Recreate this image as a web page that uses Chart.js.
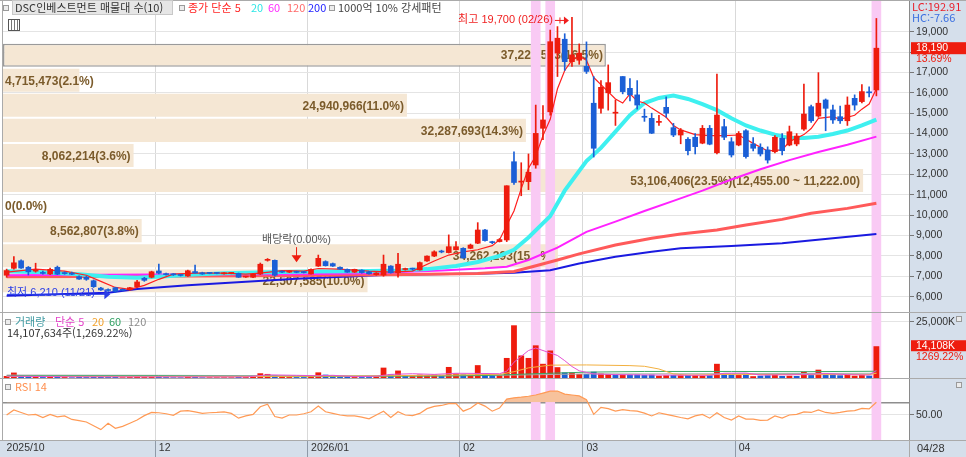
<!DOCTYPE html>
<html lang="ko">
<head>
<meta charset="utf-8">
<title>DSC인베스트먼트 일봉</title>
<script src="https://cdn.jsdelivr.net/npm/chart.js@4.4.1/dist/chart.umd.min.js"></script>
<style>
  body { margin: 0; background: #fff; }
  #wrap { position: relative; width: 966px; height: 457px; overflow: hidden; background: #fff;
          font-family: "Noto Sans CJK KR", "Liberation Sans", sans-serif; font-size: 11px; color: #333; }
  .axisbg { position: absolute; background: #d5dfeb; }
  canvas { position: absolute; left: 0; }
  .hl { position: absolute; background: #aaaaaa; }
  .t { position: absolute; white-space: nowrap; line-height: 13px; }
  .sq { position: absolute; width: 4px; height: 4px; border: 1px solid #9a9a9a; background: #ececec; }
</style>
</head>
<body>
<div id="wrap">
  <div class="axisbg" style="left:909px;top:0;width:57px;height:441px"></div>
  <div class="axisbg" style="left:0;top:441px;width:966px;height:16px"></div>

  <canvas id="pricePane" width="966" height="312" style="top:0"></canvas>
  <canvas id="volPane" width="966" height="65" style="top:313px"></canvas>
  <canvas id="rsiPane" width="966" height="78" style="top:379px"></canvas>

  <div class="hl" style="left:0;top:0;width:966px;height:1px"></div>
  <div class="hl" style="left:0;top:312px;width:966px;height:1px"></div>
  <div class="hl" style="left:0;top:378px;width:966px;height:1px"></div>
  <div class="hl" style="left:0;top:440px;width:966px;height:1px"></div>
  <div class="hl" style="left:2px;top:0;width:1px;height:441px"></div>
  <div class="hl" style="left:909px;top:440px;width:1px;height:17px"></div>

  <!-- price pane legend -->
  <div class="sq" style="left:3px;top:5px"></div>
  <div class="t" style="left:12px;top:0;width:157px;height:13px;background:#e6e6e6;border:1px solid #c8c8c8;padding-left:2px">DSC인베스트먼트 매물대 수(10)</div>
  <div class="sq" style="left:179px;top:5px"></div>
  <div class="t" style="left:188px;top:1px;color:#ff2525">종가 단순 5</div>
  <div class="t" style="left:251px;top:1px;color:#2ee6e6">20</div>
  <div class="t" style="left:268px;top:1px;color:#ff2cff">60</div>
  <div class="t" style="left:287px;top:1px;color:#ff6a6a">120</div>
  <div class="t" style="left:308px;top:1px;color:#2222ff">200</div>
  <div class="sq" style="left:329px;top:5px"></div>
  <div class="t" style="left:338px;top:1px;color:#444">1000억 10% 강세패턴</div>
  <div style="position:absolute;left:8px;top:19px;width:10px;height:10px;border:1px solid #555;
       background:repeating-linear-gradient(90deg,#fff 0 2px,#777 2px 3px),#fff"></div>
  <div class="t" style="left:912px;top:0;color:#e8202a">LC:192.91</div>
  <div class="t" style="left:912px;top:11px;color:#3a6fe0">HC:-7.66</div>

  <!-- volume pane legend -->
  <div class="sq" style="left:5px;top:319px"></div>
  <div class="t" style="left:15px;top:315px;color:#3f9aa2">거래량</div>
  <div class="t" style="left:55px;top:315px;color:#e442c8">단순 5</div>
  <div class="t" style="left:92px;top:315px;color:#f2a12a">20</div>
  <div class="t" style="left:109px;top:315px;color:#2fa062">60</div>
  <div class="t" style="left:128px;top:315px;color:#8c8c8c">120</div>
  <div class="t" style="left:7px;top:326px;color:#333">14,107,634주(1,269.22%)</div>
  <div class="sq" style="left:956px;top:316px"></div>

  <!-- RSI pane legend -->
  <div class="sq" style="left:5px;top:384px"></div>
  <div class="t" style="left:15px;top:380px;color:#ff9050">RSI 14</div>
  <div class="sq" style="left:956px;top:382px"></div>
  <div class="t" style="left:917px;top:442px;color:#333;font-family:'Liberation Sans'">04/28</div>
</div>

<script>
// trading days shown on the chart
const octDays = [31];
const novDays = [3,4,5,6,7,10,11,12,13,14,17,18,19,20,21,24,25,26,27,28];
const decDays = [1,2,3,4,5,8,9,10,11,12,15,16,17,18,19,22,23,24,26,29,30];
const janDays = [2,5,6,7,8,9,12,13,14,15,16,19,20,21,22,23,26,27,28,29,30];
const febDays = [2,3,4,5,6,9,10,11,12,13,19,20,23,24,25,26,27];
const marDays = [3,4,5,6,9,10,11,12,13,16,17,18,19,20,23,24,25,26,27,30,31];
const aprDays = [1,2,3,6,7,8,9,10,13,14,15,16,17,20,21,22,23,24,27,28];

// x axis month labels (index of first trading day of the month)
const monthTickIdx = [0, 21, 42, 63, 80, 101];
const monthTickText = ['2025/10', '12', '2026/01', '02', '03', '04'];

const opens = [
  7050,7390,7760,7440,7250,7180,7110,7440,7180,7150,
  6980,6950,6780,6420,6350,6440,6350,6330,6490,6900,
  6950,7260,7130,7100,7060,7010,7230,7170,7160,7160,
  7120,7140,7140,6960,6950,7110,7780,7780,7240,7200,
  7230,7220,7110,7500,7720,7620,7440,7340,7200,7300,
  7220,7080,7060,7500,7170,7330,7370,7310,7750,7990,
  8210,8160,8300,8370,8370,8620,9270,8680,8700,8780,
  12620,11620,11640,12460,14260,15070,17950,18630,17530,17600,
  17300,15490,15240,16000,15000,16800,16220,15900,14850,14750,
  14550,15290,14290,13930,13720,13820,13530,14260,13060,14340,
  13600,13440,14140,13490,13330,13200,13110,13770,13440,13490,
  14220,15320,14860,15650,15160,14830,14630,15730,15570,16050,
  16140
];
const highs = [
  7350,7960,7800,7480,7640,7250,7400,7500,7220,7200,
  7020,7000,6820,6460,6380,6460,6380,6460,6800,6950,
  7250,7600,7160,7130,7090,7300,7550,7200,7190,7180,
  7180,7180,7160,7000,7120,7650,7870,7800,7260,7280,
  7250,7240,7360,8040,7760,7650,7460,7360,7350,7320,
  7240,7180,8040,7520,8120,7400,7400,7700,8000,8250,
  8280,9030,8700,8400,8580,9630,9300,8720,8850,11440,
  13100,12570,13000,15400,15370,19080,19250,18900,19700,18400,
  18500,16800,16600,17370,15650,16800,16700,16600,15200,15000,
  14900,15800,14500,14250,13800,14000,14400,14400,16920,14700,
  13800,14100,14200,13800,13500,13350,13900,14000,14370,14000,
  16430,15400,16990,15700,15400,15350,15800,15900,16400,16300,
  19650
];
const lows = [
  6950,7350,7380,7060,7200,7100,7080,7080,7100,7080,
  6840,6800,6450,6300,6260,6210,6280,6320,6470,6750,
  6920,7120,7050,7040,7010,6990,7150,7090,7120,7120,
  7100,7120,6940,6940,6930,7080,7740,7000,7180,7180,
  7170,7160,7100,7480,7500,7480,7330,7190,7180,7150,
  7100,7050,7000,7150,6950,7300,7300,7300,7730,7960,
  8150,8140,8280,7880,8350,8600,8720,8600,8680,8700,
  11500,10950,11250,12300,13700,14900,16800,17100,17300,17400,
  16950,12850,15000,15150,14400,15950,15600,15200,14600,14000,
  14400,14800,13850,13500,12950,13000,13500,13450,13000,13700,
  12850,13400,12800,13150,12900,12550,13050,12950,13400,13400,
  14150,14550,14800,14140,14500,14500,14400,15150,15500,15800,
  15850
];
const closes = [
  7280,7660,7400,7220,7320,7140,7340,7100,7130,7100,
  6860,6850,6490,6330,6300,6260,6310,6440,6720,6800,
  7220,7150,7080,7070,7040,7270,7160,7110,7140,7140,
  7160,7170,6950,6990,7100,7590,7800,7050,7200,7260,
  7190,7180,7340,7880,7520,7500,7350,7200,7340,7180,
  7120,7160,7590,7170,7590,7350,7350,7670,7990,8200,
  8190,8450,8450,7900,8530,9270,8750,8650,8800,11440,
  11600,11660,12100,14010,14670,18510,18680,17530,17860,17950,
  17050,13280,16270,16500,15050,16060,15900,15400,14800,14020,
  14600,15000,13930,14170,13160,13360,14260,13480,14910,13820,
  12950,14010,12870,13280,13000,12700,13820,13160,14090,13880,
  14960,14630,15490,15240,14670,14630,15400,15400,16060,16000,
  18190
];

// moving averages: [day index, value]
const ma5Pts = [[0,7200],[4,7350],[8,7250],[11,7050],[13,6750],[15,6450],[17,6360],[19,6550],[21,6850],[23,7100],
  [26,7150],[30,7150],[33,7100],[35,7150],[38,7280],[41,7250],[43,7380],[46,7350],[50,7250],[53,7200],[56,7250],
  [59,7750],[61,8040],[63,8200],[65,8300],[67,8500],[68,8780],[69,9500],[70,10200],[71,11300],[72,12300],[73,12900],
  [74,13900],[75,14700],[76,16200],[77,17100],[78,17600],[79,17800],[80,17600],[81,16750],[82,16400],[84,15700],
  [85,15500],[86,15950],[87,15600],[88,15500],[89,15250],[91,14800],[92,14400],[93,14180],[95,13950],[97,13900],
  [99,13900],[101,13930],[103,13520],[105,13150],[107,13200],[108,13600],[110,13950],[111,14250],[112,14750],
  [114,14830],[115,14700],[117,14900],[118,15200],[119,15450],[120,16200]];
const ma20Pts = [[0,7250],[5,7200],[10,7100],[14,6980],[18,6930],[22,7000],[26,7080],[30,7150],[36,7200],[42,7230],
  [48,7250],[54,7280],[58,7350],[62,7500],[65,7700],[68,8000],[70,8300],[72,8900],[75,9950],[77,11200],[80,12650],
  [82,13300],[84,14100],[86,14900],[88,15500],[90,15750],[92,15870],[94,15700],[96,15450],[98,15150],[100,14750],
  [102,14400],[104,14150],[106,13950],[108,13780],[110,13780],[112,13850],[114,13980],[116,14150],[118,14400],[120,14680]];
const ma60Pts = [[0,7050],[20,7080],[40,7100],[50,7150],[60,7280],[66,7390],[69,7470],[72,7800],[76,8400],[80,9180],
  [84,9680],[88,10200],[92,10700],[96,11200],[100,11750],[104,12250],[108,12700],[112,13100],[116,13450],[120,13850]];
const ma120Pts = [[0,6980],[20,7000],[40,7040],[55,7080],[65,7140],[70,7230],[72,7420],[76,7800],[79,8100],[84,8530],
  [89,8860],[93,9070],[98,9270],[102,9510],[107,9790],[111,10090],[116,10330],[120,10580]];
const ma200Pts = [[0,6040],[14,6190],[18,6380],[25,6560],[33,6730],[40,6880],[52,7060],[66,7140],[70,7170],[75,7300],
  [79,7630],[84,7960],[89,8200],[93,8370],[100,8480],[107,8620],[114,8860],[120,9070]];

// volume profile (매물대), bottom band first
const profEdges = [6163, 7393, 8623, 9853, 11083, 12313, 13543, 14773, 16003, 17233, 18463];
const profVolume = [22507585, 34262293, 8562807, 0, 53106406, 8062214, 32287693, 24940966, 4715473, 37224503];
const profPct = [10.0, 15.2, 3.8, 0.0, 23.5, 3.6, 14.3, 11.0, 2.1, 16.5];
const profMaxRange = '12,455.00 ~ 11,222.00';

// volume in thousand shares
const volumes = [
  900,2400,1000,600,700,400,500,600,400,300,
  500,400,700,500,400,600,300,400,700,400,
  600,800,400,300,300,600,500,300,300,300,
  300,300,500,400,500,2100,1800,1200,500,400,
  400,400,600,2500,1500,700,500,500,400,400,
  400,500,4600,1600,3300,1000,800,1500,1300,1500,
  900,4900,2000,1600,1400,5700,1500,1200,1200,8900,
  23400,10000,8900,14500,6300,12200,4800,2500,2500,1800,
  1800,2800,2000,1800,1500,1500,1500,1500,1300,1500,
  1000,1200,1300,1200,1300,1200,1000,1200,6300,1500,
  1500,1300,1500,800,1000,1200,1300,900,1000,900,
  2800,1300,3700,1500,1500,1200,1400,1000,1300,1030.344,
  14107.634
];
const volMa5Pts = [[0,800],[10,500],[20,500],[33,450],[36,1400],[40,1200],[43,1000],[45,1200],[48,600],[51,800],
  [53,1600],[56,1900],[59,1600],[62,2100],[66,2000],[68,1900],[69,3000],[70,7000],[72,12200],[73,13300],[74,12200],
  [76,10000],[77,7700],[78,5100],[79,3200],[81,1800],[84,1500],[90,1300],[97,1200],[99,2100],[102,2200],[104,1300],
  [110,1500],[113,2000],[116,1500],[119,1300],[120,3300]];
const volMa20Pts = [[0,700],[30,600],[50,900],[60,1300],[68,1600],[70,2800],[72,4500],[75,5700],[80,5800],[86,5500],
  [88,5200],[90,4000],[92,1800],[94,1300],[100,1600],[110,1500],[119,1500],[120,2100]];
const volMa60Pts = [[0,1000],[21,1000],[30,800],[45,700],[60,900],[66,1100],[72,1800],[80,2600],[88,2900],[100,2900],
  [110,2800],[120,3000]];
const volMa120Pts = [[0,1300],[21,1200],[40,1000],[60,1000],[70,1300],[80,1800],[100,1900],[120,2100]];

const rsi = [
  50,58,54,50,51,46,51,47,48.5,43,
  41,39,33,27,37,29,32,37,42,49,
  54,53.5,52,49.5,56,57,55,52.5,53.5,54,
  55,52.5,45,48.5,51,63,67,47.5,45,50,
  50,52,55,64,55,52.5,50,48.5,48.5,46.5,
  44,50,56,46,55,50,49,52.5,60,63.5,
  65,68,68,56,60.5,69,64,56,61,75,
  77,78,79.5,81.5,84.5,87.5,87.8,83,81.5,80,
  74,51,62,60,56,58.5,57,56,53,48.5,
  53.5,51,48.5,46,44,48.5,51,45,53.5,46,
  42,48.5,43.5,43.5,41.5,42,48.5,45,50,51,
  55,54,58,54,52.5,54,56,57,60.5,59.5,
  70
];

const patternIdx = [73, 75, 120];   // 1000억 10% 강세패턴
const exDivIdx = 40;               // 배당락
const priceTicks = [6000,7000,8000,9000,10000,11000,12000,13000,14000,15000,16000,17000,18000,19000];
const volTicks = [25000];
const rsiTicks = [50, 70];

// ---------------------------------------------------------------
const N = closes.length;
const PAD = 4;
const AXIS_W = 57;
const PRICE_MIN = 5246, PRICE_MAX = 20555;
const VOL_MAX = 28860;
const RSI_MIN = 10.6, RSI_MAX = 106.7;
const PROF_MAX = 55940000;
const UP = '#ee1c0e', DOWN = '#1b5fd6', PINK = '#f9caf4';

const tradeDays = [];
[['2025-10', octDays], ['2025-11', novDays], ['2025-12', decDays], ['2026-01', janDays],
 ['2026-02', febDays], ['2026-03', marDays], ['2026-04', aprDays]].forEach(([ym, days]) => {
  days.forEach(d => tradeDays.push(ym + '-' + String(d).padStart(2, '0')));
});
const axisLabels = tradeDays.concat(new Array(PAD).fill(''));

const fmt = v => Math.round(v).toLocaleString('en-US');
const mmdd = i => tradeDays[i].slice(5).replace('-', '/');
const candleColor = closes.map((c, i) => c >= opens[i] ? UP : DOWN);
const volColor = closes.map((c, i) => c >= (i ? closes[i - 1] : opens[i]) ? UP : DOWN);

function series(points) {
  const out = new Array(N).fill(null);
  points.forEach(([i, v]) => { out[i] = v; });
  return out;
}
function maLine(points, color, width, order) {
  return { type: 'line', data: series(points), borderColor: color, borderWidth: width,
           pointRadius: 0, tension: 0, spanGaps: true, order: order };
}
function patternBars(lo, hi) {
  return { data: closes.map((c, i) => patternIdx.includes(i) ? [lo, hi] : null),
           backgroundColor: PINK, barThickness: 9, grouped: false, order: 9 };
}

Chart.defaults.font.family = '"Liberation Sans", "Noto Sans CJK KR", sans-serif';
Chart.defaults.font.size = 10.5;
Chart.defaults.color = '#333';

const isMonthLine = ctx => monthTickIdx.includes(ctx.index) && ctx.index > 0;
function hiddenX() {
  return {
    grid: { color: ctx => isMonthLine(ctx) ? '#d9d9d9' : 'rgba(0,0,0,0)', drawTicks: false },
    ticks: { display: false }, border: { display: false },
    afterFit: s => { s.height = 0; s.paddingLeft = 0; s.paddingRight = 0; }
  };
}
function rightY(min, max, ticks, label, extra) {
  return Object.assign({
    position: 'right', min: min, max: max,
    afterBuildTicks: s => { s.ticks = ticks.map(v => ({ value: v })); },
    afterFit: s => { s.width = AXIS_W; s.paddingTop = 0; s.paddingBottom = 0; },
    ticks: { callback: label, color: '#333', padding: 2 },
    grid: { color: '#e4e4e4', tickColor: '#777', tickLength: 5 },
    border: { color: '#8a8a8a' }
  }, extra || {});
}
const baseOpts = {
  responsive: false, animation: false, events: [],
  plugins: { legend: { display: false }, tooltip: { enabled: false } }
};

// ---- price pane ----
const priceMarks = {
  id: 'priceMarks',
  afterDatasetDraw(chart, args) {
    if (args.index !== 0) return;
    const ctx = chart.ctx, area = chart.chartArea;
    const maxVol = Math.max(...profVolume);
    ctx.save();
    ctx.font = 'bold 12px "Liberation Sans"';
    ctx.fillStyle = '#7b5b2b';
    ctx.textBaseline = 'middle';
    args.meta.data.forEach((bar, i) => {
      let txt = fmt(profVolume[i]) + '(' + profPct[i].toFixed(1) + '%)';
      if (profVolume[i] === maxVol) txt += '(' + profMaxRange + ')';
      const w = ctx.measureText(txt).width;
      if (bar.x - area.left > w + 6) { ctx.textAlign = 'right'; ctx.fillText(txt, bar.x - 3, bar.y + 1); }
      else { ctx.textAlign = 'left'; ctx.fillText(txt, area.left + 2, bar.y + 1); }
    });
    ctx.restore();
  },
  afterDatasetsDraw(chart) {
    const ctx = chart.ctx, xs = chart.scales.x, ys = chart.scales.y, area = chart.chartArea;
    ctx.save();
    ctx.font = '11px "Liberation Sans", "Noto Sans CJK KR"';
    ctx.textBaseline = 'middle';
    ctx.lineWidth = 1;

    // highest
    const hi = Math.max(...highs), hiIdx = highs.indexOf(hi);
    let px = xs.getPixelForValue(hiIdx), py = ys.getPixelForValue(hi) + 3;
    ctx.fillStyle = ctx.strokeStyle = '#f01e1e';
    ctx.textAlign = 'right';
    ctx.fillText('최고 ' + fmt(hi) + ' (' + mmdd(hiIdx) + ')', px - 19, py);
    ctx.beginPath(); ctx.moveTo(px - 17, py); ctx.lineTo(px - 7, py);
    ctx.moveTo(px - 12, py - 3); ctx.lineTo(px - 12, py + 3); ctx.stroke();
    ctx.beginPath(); ctx.moveTo(px - 8, py - 4); ctx.lineTo(px - 3, py); ctx.lineTo(px - 8, py + 4); ctx.fill();

    // lowest
    const lo = Math.min(...lows), loIdx = lows.indexOf(lo);
    px = xs.getPixelForValue(loIdx); py = ys.getPixelForValue(lo) + 1;
    ctx.fillStyle = ctx.strokeStyle = '#2a3ee6';
    ctx.textAlign = 'left';
    ctx.fillText('최저 ' + fmt(lo) + ' (' + mmdd(loIdx) + ')', area.left + 4, py);
    ctx.beginPath(); ctx.moveTo(area.left + 4, py + 1); ctx.lineTo(px - 10, py + 1); ctx.stroke();
    ctx.beginPath(); ctx.moveTo(px - 11, py - 4); ctx.lineTo(px - 5, py + 1); ctx.lineTo(px - 11, py + 6); ctx.fill();

    // ex-dividend
    px = xs.getPixelForValue(exDivIdx);
    const tip = ys.getPixelForValue(highs[exDivIdx]) - 9;
    ctx.fillStyle = ctx.strokeStyle = '#ee1c0e';
    ctx.beginPath(); ctx.moveTo(px, tip - 15); ctx.lineTo(px, tip - 5); ctx.stroke();
    ctx.beginPath(); ctx.moveTo(px - 5, tip - 7); ctx.lineTo(px + 5, tip - 7); ctx.lineTo(px, tip); ctx.fill();
    ctx.fillStyle = '#555';
    ctx.textAlign = 'center';
    ctx.fillText('배당락(0.00%)', px, tip - 22);
    ctx.restore();
  },
  afterDraw(chart) {
    const ctx = chart.ctx, ys = chart.scales.y;
    const last = closes[N - 1], prev = closes[N - 2];
    const y = ys.getPixelForValue(last);
    const left = chart.chartArea.right + 2;
    ctx.save();
    ctx.fillStyle = '#d5dfeb'; ctx.fillRect(left, y + 5, chart.width - left, 12);
    ctx.fillStyle = UP; ctx.fillRect(left, y - 6, chart.width - left, 12);
    ctx.font = '10.5px "Liberation Sans"'; ctx.textAlign = 'left'; ctx.textBaseline = 'middle';
    ctx.fillStyle = '#fff'; ctx.fillText(fmt(last), left + 5, y);
    ctx.fillStyle = UP; ctx.fillText(((last / prev - 1) * 100).toFixed(2) + '%', left + 5, y + 11);
    ctx.restore();
  }
};

const curBand = profEdges.findIndex((e, i) => i < profEdges.length - 1 && closes[N - 1] >= e && closes[N - 1] < profEdges[i + 1]);

new Chart(document.getElementById('pricePane'), {
  type: 'bar',
  data: {
    labels: axisLabels,
    datasets: [
      { indexAxis: 'y', xAxisID: 'xv', yAxisID: 'yp', order: 10, grouped: false,
        data: profVolume.map((v, i) => ({ x: v, y: (profEdges[i] + profEdges[i + 1]) / 2 })),
        backgroundColor: '#f5e7d4', barPercentage: 0.92, categoryPercentage: 1,
        borderColor: '#9a9a9a', borderSkipped: false,
        borderWidth: ctx => ctx.dataIndex === curBand ? 1.5 : 0 },
      patternBars(PRICE_MIN, PRICE_MAX),
      maLine(ma200Pts, '#1a1ae0', 2, 6),
      maLine(ma120Pts, '#ff5a5a', 3, 5),
      maLine(ma60Pts, '#ff22ff', 2, 4),
      maLine(ma20Pts, '#3ef0f0', 4, 3),
      maLine(ma5Pts, '#ff1f1f', 1.2, 2),
      { data: lows.map((l, i) => [l, highs[i]]), backgroundColor: candleColor,
        barThickness: 1, grouped: false, order: 1 },
      { data: opens.map((o, i) => [o, closes[i]]), backgroundColor: candleColor,
        barThickness: 5, minBarLength: 1, grouped: false, order: 0 }
    ]
  },
  options: Object.assign({}, baseOpts, {
    layout: { padding: { left: 3, right: 0, top: 0, bottom: 0 } },
    scales: {
      x: hiddenX(),
      y: rightY(PRICE_MIN, PRICE_MAX, priceTicks, v => fmt(v)),
      xv: { type: 'linear', display: false, min: 0, max: PROF_MAX, offset: false },
      yp: { type: 'linear', display: false, min: PRICE_MIN, max: PRICE_MAX, offset: false, ticks: { stepSize: 5000 } }
    }
  }),
  plugins: [priceMarks]
});

// ---- volume pane ----
const volTag = {
  id: 'volTag',
  afterDraw(chart) {
    const ctx = chart.ctx, ys = chart.scales.y;
    const last = volumes[N - 1], prev = volumes[N - 2];
    const y = ys.getPixelForValue(last);
    const left = chart.chartArea.right + 2;
    ctx.save();
    ctx.fillStyle = UP; ctx.fillRect(left, y - 6, chart.width - left, 11);
    ctx.font = '10.5px "Liberation Sans"'; ctx.textAlign = 'left'; ctx.textBaseline = 'middle';
    ctx.fillStyle = '#fff'; ctx.fillText(fmt(last) + 'K', left + 5, y);
    ctx.fillStyle = UP; ctx.fillText(((last / prev - 1) * 100).toFixed(2) + '%', left + 5, y + 11);
    ctx.restore();
  }
};
new Chart(document.getElementById('volPane'), {
  type: 'bar',
  data: {
    labels: axisLabels,
    datasets: [
      patternBars(0, VOL_MAX),
      maLine(volMa120Pts, '#a8a8a8', 1, 5),
      maLine(volMa60Pts, '#3aa865', 1, 4),
      maLine(volMa20Pts, '#f2b040', 1, 3),
      maLine(volMa5Pts, '#e452d2', 1, 2),
      { data: volumes, backgroundColor: volColor, barPercentage: 0.8, categoryPercentage: 1,
        grouped: false, order: 6 }
    ]
  },
  options: Object.assign({}, baseOpts, {
    layout: { padding: { left: 3, right: 0, top: 0, bottom: 0 } },
    scales: {
      x: hiddenX(),
      y: rightY(0, VOL_MAX, volTicks, v => fmt(v) + 'K')
    }
  }),
  plugins: [volTag]
});

// ---- RSI pane ----
new Chart(document.getElementById('rsiPane'), {
  type: 'bar',
  data: {
    labels: axisLabels,
    datasets: [
      patternBars(RSI_MIN, RSI_MAX),
      { type: 'line', data: rsi, borderColor: '#ff9a55', borderWidth: 1.2, pointRadius: 0, tension: 0,
        fill: { target: { value: 70 }, above: '#f7c29c', below: 'rgba(0,0,0,0)' }, order: 1 }
    ]
  },
  options: Object.assign({}, baseOpts, {
    layout: { padding: { left: 3, right: 0, top: 0, bottom: 0 } },
    scales: {
      x: {
        grid: { color: ctx => isMonthLine(ctx) ? '#d9d9d9' : 'rgba(0,0,0,0)',
                tickColor: ctx => isMonthLine(ctx) ? '#8f9aa8' : 'rgba(0,0,0,0)', tickLength: 17 },
        border: { display: false },
        ticks: { autoSkip: false, maxRotation: 0, minRotation: 0, align: 'start', padding: -15, color: '#333',
                 callback: (v, i) => { const k = monthTickIdx.indexOf(i); return k >= 0 ? monthTickText[k] : ''; } },
        afterFit: s => { s.height = 17; s.paddingLeft = 0; s.paddingRight = 0; }
      },
      y: rightY(RSI_MIN, RSI_MAX, rsiTicks, v => v === 50 ? '50.00' : '', {
        grid: { color: ctx => ctx.tick && ctx.tick.value === 70 ? '#8e8e8e' : '#e4e4e4',
                lineWidth: ctx => ctx.tick && ctx.tick.value === 70 ? 1.5 : 1,
                tickColor: ctx => ctx.tick && ctx.tick.value === 70 ? 'rgba(0,0,0,0)' : '#777', tickLength: 5 }
      })
    }
  })
});
</script>
</body>
</html>
